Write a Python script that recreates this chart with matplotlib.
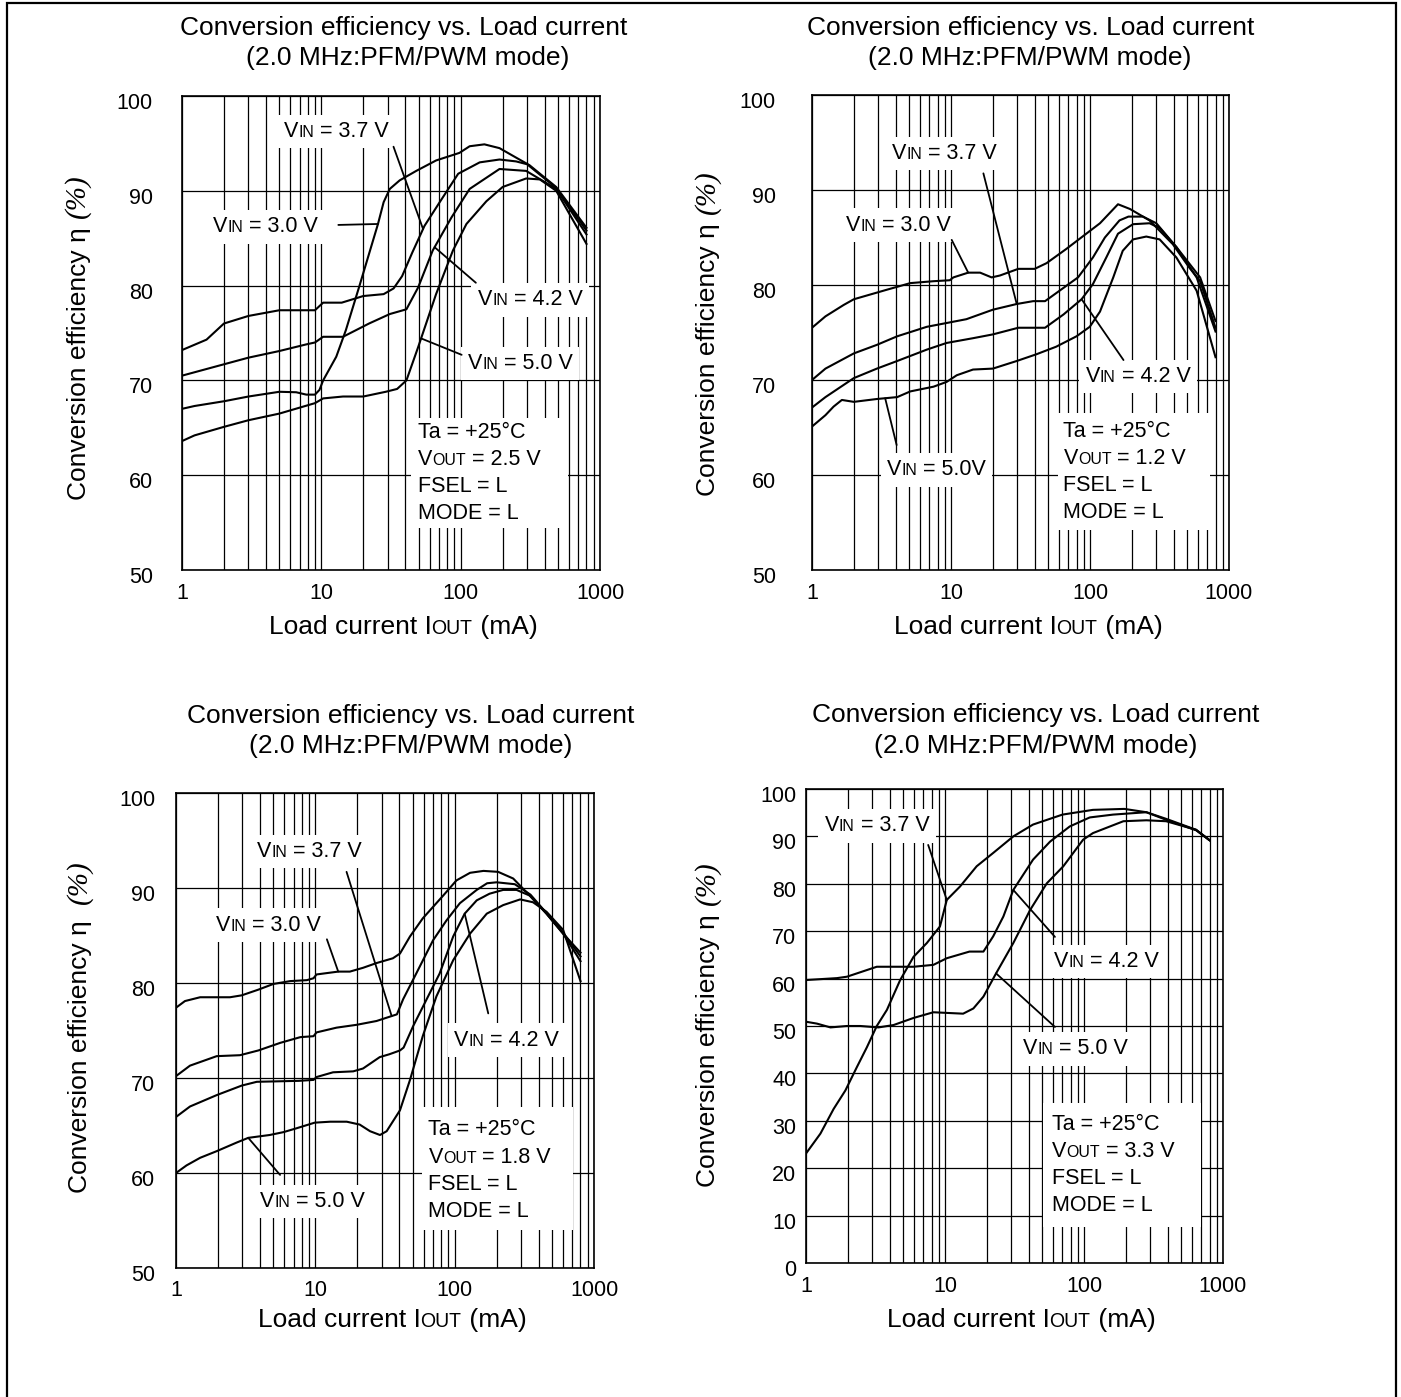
import numpy as np
import matplotlib.pyplot as plt
from matplotlib.offsetbox import TextArea, HPacker, VPacker, AnnotationBbox
from matplotlib.patches import Rectangle
from matplotlib.ticker import LogLocator, NullFormatter, NullLocator
from matplotlib.transforms import ScaledTranslation

plt.rcParams["font.family"] = ["Liberation Sans", "DejaVu Sans"]

# ---- data (load current in mA, efficiency in %) ----
# panel 1 : VOUT = 2.5 V
p1_i_30 = [1, 1.23, 2, 3, 5, 6.6, 7.8, 9, 9.7, 10.3, 12.8, 15, 18.8, 25.5, 28, 31,
           36.5, 48, 66.6, 98, 116, 148, 190, 250, 312, 485, 800]
p1_e_30 = [67.0, 67.3, 67.8, 68.3, 68.8, 68.75, 68.5, 68.5, 69.0, 70.0, 72.5, 75.3, 80.0,
           86.5, 88.8, 90.2, 91.1, 92.1, 93.2, 94.0, 94.7, 94.9, 94.5, 93.5, 92.7, 90.4, 86.1]
p1_i_37 = [1, 1.5, 2, 3, 5, 9, 10.3, 14, 20, 28, 33, 38, 45, 55, 70, 96, 137, 190, 250,
           300, 485, 800]
p1_e_37 = [73.2, 74.3, 76.0, 76.8, 77.4, 77.4, 78.2, 78.2, 78.9, 79.1, 79.7, 81.0, 83.5,
           86.3, 88.7, 91.8, 93.0, 93.3, 93.1, 92.8, 90.3, 85.8]
p1_i_42 = [1, 2, 3, 5, 7.8, 9, 10.3, 14.3, 22, 31, 40.8, 49.5, 63, 86, 116, 190, 295, 485, 800]
p1_e_42 = [70.5, 71.7, 72.4, 73.1, 73.8, 74.0, 74.6, 74.6, 76.0, 77.0, 77.5, 79.8, 83.7,
           87.2, 90.2, 92.3, 92.1, 90.2, 85.4]
p1_i_50 = [1, 1.23, 2, 3, 5, 9, 10.3, 14.3, 20, 29, 35, 40.8, 49.5, 66.6, 88, 110, 153,
           200, 295, 370, 485, 800]
p1_e_50 = [63.6, 64.2, 65.1, 65.8, 66.5, 67.6, 68.1, 68.3, 68.3, 68.8, 69.1, 70.0, 73.5,
           79.1, 83.7, 86.5, 88.9, 90.4, 91.3, 91.2, 90.0, 84.4]

# panel 2 : VOUT = 1.2 V
p2_i_30 = [1, 1.25, 1.69, 2, 2.93, 3.45, 5.1, 7.5, 9.8, 10.4, 13.3, 16.2, 19.6, 22.5, 30.5,
           40, 48.7, 67.6, 94, 118, 159, 194, 268, 394, 520, 620, 800]
p2_e_30 = [75.5, 76.7, 77.9, 78.5, 79.2, 79.5, 80.2, 80.4, 80.5, 80.8, 81.3, 81.3, 80.8,
           81.0, 81.7, 81.7, 82.3, 83.8, 85.4, 86.5, 88.5, 88.0, 86.8, 84.3, 81.8, 80.4, 75.5]
p2_i_37 = [1, 1.25, 2, 2.93, 4.1, 6.7, 9.3, 12.9, 20, 29.7, 39, 47.5, 64.5, 82, 105, 128,
           163, 189, 240, 300, 418, 620, 800]
p2_e_37 = [70.0, 71.2, 72.8, 73.7, 74.6, 75.6, 76.0, 76.4, 77.4, 78.0, 78.3, 78.3, 79.7,
           80.8, 82.9, 85.0, 86.8, 87.2, 87.2, 86.5, 84.0, 80.8, 76.2]
p2_i_42 = [1, 1.25, 2, 2.93, 4.1, 6.7, 9.3, 14.4, 20, 30.5, 47.5, 64.5, 87, 105, 131, 159,
           204, 268, 317, 418, 585, 800]
p2_e_42 = [67.1, 68.2, 70.2, 71.2, 72.0, 73.2, 73.9, 74.4, 74.8, 75.5, 75.5, 76.9, 78.5,
           80.1, 82.9, 85.4, 86.4, 86.5, 86.0, 84.0, 80.8, 75.1]
p2_i_50 = [1, 1.25, 1.43, 1.64, 2, 2.93, 4.1, 5.1, 7.5, 9.3, 11, 14.4, 20, 29.7, 41, 57, 80,
           99.6, 118, 147, 172, 204, 254, 317, 418, 585, 800]
p2_e_50 = [65.1, 66.3, 67.2, 67.9, 67.7, 68.0, 68.2, 68.8, 69.3, 69.8, 70.5, 71.1, 71.2,
           72.0, 72.7, 73.5, 74.6, 75.6, 77.2, 80.8, 83.6, 84.8, 85.1, 84.8, 82.9, 79.4, 72.4]

# panel 3 : VOUT = 1.8 V
p3_i_30 = [1, 1.16, 1.49, 2.44, 2.96, 3.9, 5, 6.6, 8.7, 9.7, 10.2, 14.6, 17.7, 22, 27.5, 36,
           40.5, 47.8, 59, 82.7, 103, 129, 161, 205, 263, 346, 456, 600, 800]
p3_e_30 = [77.4, 78.1, 78.5, 78.5, 78.7, 79.3, 79.9, 80.2, 80.3, 80.5, 80.9, 81.2, 81.2,
           81.6, 82.1, 82.6, 83.1, 84.9, 86.8, 89.2, 90.8, 91.6, 91.8, 91.7, 91.0, 89.2,
           87.3, 85.2, 82.3]
p3_i_37 = [1, 1.26, 1.96, 2.88, 3.9, 5.6, 7.8, 9.7, 10.2, 14.2, 19.8, 27.5, 38.5, 42.7, 53,
           70, 87.5, 109, 144, 171, 200, 270, 350, 460, 600, 800]
p3_e_37 = [70.2, 71.3, 72.3, 72.4, 72.9, 73.7, 74.3, 74.4, 74.8, 75.3, 75.6, 76.0, 76.7,
           78.3, 81.0, 84.5, 86.6, 88.4, 89.8, 90.5, 90.6, 90.4, 89.3, 87.3, 85.3, 82.8]
p3_i_42 = [1, 1.26, 1.96, 2.96, 3.8, 7.6, 9.7, 10.2, 13.4, 18.7, 22, 29, 34, 40.5, 43, 50.5,
           63, 78, 97.6, 118, 144, 178, 223, 278, 346, 456, 600, 800]
p3_e_42 = [65.9, 67.0, 68.2, 69.2, 69.6, 69.7, 69.8, 70.1, 70.6, 70.7, 71.0, 72.2, 72.5,
           72.9, 73.2, 75.5, 78.3, 81.0, 84.9, 87.3, 88.7, 89.4, 89.8, 89.8, 89.2, 87.3,
           85.2, 83.2]
p3_i_50 = [1, 1.19, 1.49, 1.96, 2.72, 3.3, 4.7, 5.9, 7.3, 9.9, 12.8, 16.8, 20.8, 24.7, 29.1,
           32.5, 40.5, 47.8, 59, 74, 97.6, 129, 170, 223, 295, 365, 456, 600, 800]
p3_e_50 = [60.0, 60.8, 61.6, 62.3, 63.2, 63.7, 64.0, 64.3, 64.7, 65.3, 65.4, 65.4, 65.1,
           64.4, 64.0, 64.4, 66.6, 69.8, 74.4, 78.6, 82.4, 85.2, 87.3, 88.2, 88.8, 88.5,
           87.5, 85.6, 80.2]

# panel 4 : VOUT = 3.3 V
p4_i_37 = [1, 1.27, 1.58, 1.92, 2.32, 2.74, 3.23, 3.82, 4.76, 5.94, 7.4, 9.2, 10.3, 12.8,
           16.9, 22.2, 31, 43, 70, 116, 195, 281, 390, 640, 800]
p4_e_37 = [23.1, 27.3, 32.5, 36.4, 41.3, 45.5, 50.0, 53.4, 59.7, 64.6, 67.5, 71.0, 76.6,
           79.4, 83.7, 86.5, 90.0, 92.5, 94.6, 95.6, 95.8, 95.1, 93.7, 91.4, 89.2]
p4_i_42 = [1, 1.67, 1.97, 3.23, 5.94, 8.25, 10.3, 15, 18.9, 22.2, 26.3, 31, 43, 57, 79, 110,
           162, 281, 390, 640, 800]
p4_e_42 = [59.7, 60.1, 60.4, 62.5, 62.5, 62.9, 64.3, 65.7, 65.7, 68.9, 73.1, 78.7, 85.1,
           88.9, 92.1, 94.0, 94.6, 95.1, 93.5, 91.3, 89.2]
p4_i_50 = [1, 1.2, 1.5, 1.97, 2.46, 3.32, 4.26, 5.94, 8.25, 9.7, 13.5, 16, 18.9, 23.3, 31,
           41, 54, 71, 98.5, 116, 192, 281, 390, 640, 800]
p4_e_50 = [50.9, 50.5, 49.7, 50.0, 50.0, 49.7, 50.2, 51.7, 52.9, 52.8, 52.6, 53.7, 56.2,
           61.1, 67.5, 74.5, 80.1, 83.7, 89.3, 90.7, 93.2, 93.4, 93.2, 91.4, 89.2]

vout_labels = ["2.5 V", "1.2 V", "1.8 V", "3.3 V"]
x_ticks = [1, 10, 100, 1000]
title_1 = "Conversion efficiency vs. Load current"
title_2 = "(2.0 MHz:PFM/PWM mode)"

W, H = 1401, 1397
fig = plt.figure(figsize=(W / 100, H / 100), dpi=100)
renderer = fig.canvas.get_renderer()

LBL = 15.5   # size of in-plot labels
BIG = 19     # titles / axis labels
SMALL = 0.74  # small-caps ratio of "IN", "OUT"


def rich(parts, size):
    # parts: (text, is_small) pieces on one baseline
    areas = [TextArea(t, textprops=dict(size=size * SMALL if s else size, color="black"))
             for t, s in parts]
    return HPacker(children=areas, align="baseline", pad=0, sep=0)


def vin(v, size=LBL):
    return rich([("V", False), ("IN", True), (" = " + v, False)], size)


def on_curve(xs, ys, x):
    return np.interp(np.log10(x), np.log10(xs), ys)


def make_axes(l, t, r, b):
    return fig.add_axes([l / W, 1 - b / H, (r - l) / W, (b - t) / H])


def style(ax, ylim, yticks, ypad):
    ax.set_xscale("log")
    ax.set_xlim(1, 1000)
    ax.set_ylim(*ylim)
    ax.set_xticks(x_ticks, labels=[str(v) for v in x_ticks])
    ax.xaxis.set_minor_locator(LogLocator(base=10, subs=np.arange(2, 10)))
    ax.xaxis.set_minor_formatter(NullFormatter())
    ax.set_yticks(yticks)
    ax.yaxis.set_minor_locator(NullLocator())
    ax.tick_params(which="both", length=0, labelsize=15.5)
    ax.tick_params(axis="y", pad=ypad)
    ax.tick_params(axis="x", pad=9)
    # y labels sit a little below their grid line in the original
    shift = ScaledTranslation(0, -5 / 100, fig.dpi_scale_trans)
    for lab in ax.get_yticklabels():
        lab.set_transform(lab.get_transform() + shift)
    ax.grid(True, which="both", color="black", lw=0.9)
    ax.set_axisbelow(True)
    for sp in ax.spines.values():
        sp.set_linewidth(1.2)


def put_label(ax, box, xy):
    ab = AnnotationBbox(box, xy, xycoords="axes fraction", box_alignment=(0.5, 0.5),
                        frameon=True, pad=0.3, fontsize=15,
                        bboxprops=dict(fc="white", ec="none"), zorder=3)
    ax.add_artist(ab)


def leader(ax, start, xs, ys, x):
    ax.annotate("", xy=(x, on_curve(xs, ys, x)), xycoords="data", xytext=start,
                textcoords="axes fraction",
                arrowprops=dict(arrowstyle="-", lw=1.3, color="black",
                                shrinkA=0, shrinkB=0), zorder=4)


def conditions(ax, vout, text_xy, box):
    x0, y0, x1, y1 = box
    ax.add_patch(Rectangle((x0, y0), x1 - x0, y1 - y0, transform=ax.transAxes,
                           fc="white", ec="none", zorder=3))
    lines = [rich([("Ta = +25°C", False)], LBL),
             rich([("V", False), ("OUT", True), (" = " + vout, False)], LBL),
             rich([("FSEL = L", False)], LBL),
             rich([("MODE = L", False)], LBL)]
    pack = VPacker(children=lines, align="left", pad=0, sep=4.4)
    ab = AnnotationBbox(pack, text_xy, xycoords="axes fraction", box_alignment=(0, 0.5),
                        frameon=False, zorder=3.5)
    ax.add_artist(ab)


def fig_text(px, py, s, **kw):
    return fig.text(px / W, 1 - py / H, s, ha="center", va="center", **kw)


def xlabel(px, py):
    box = rich([("Load current I", False), ("OUT", True), (" (mA)", False)], BIG)
    ab = AnnotationBbox(box, (px, H - py), xycoords="figure pixels",
                        box_alignment=(0.5, 0.5), frameon=False)
    fig.add_artist(ab)


def ylabel(px, py_bottom, gap):
    t = fig.text(px / W, 1 - py_bottom / H, "Conversion efficiency η", rotation=90,
                 ha="center", va="bottom", size=BIG)
    bb = t.get_window_extent(renderer)
    fig.text((px - 1) / W, (bb.y1 + gap) / H, "(%)", rotation=90, ha="center", va="bottom",
             size=BIG + 2, style="italic", family=["Liberation Serif", "DejaVu Serif"])


panels = [
    dict(rect=(182, 96, 600, 570), ylim=(50, 100), yticks=range(50, 101, 10), ypad=21,
         curves=[(p1_i_30, p1_e_30), (p1_i_37, p1_e_37), (p1_i_42, p1_e_42), (p1_i_50, p1_e_50)],
         labels=[("3.7 V", (0.370, 0.925), (0.506, 0.893), 1, 53.7),
                 ("3.0 V", (0.199, 0.724), (0.374, 0.728), 0, 25.5),
                 ("4.2 V", (0.833, 0.570), (0.703, 0.606), 2, 65),
                 ("5.0 V", (0.809, 0.436), (0.669, 0.454), 3, 52)],
         cond=((0.565, 0.205), (0.549, 0.089, 0.924, 0.321)),
         title=((404, 28), (408, 58)), xl=(403, 627), yl=(79, 500, 9)),
    dict(rect=(812, 95, 1229, 570), ylim=(50, 100), yticks=range(50, 101, 10), ypad=26,
         curves=[(p2_i_30, p2_e_30), (p2_i_37, p2_e_37), (p2_i_42, p2_e_42), (p2_i_50, p2_e_50)],
         labels=[("3.7 V", (0.317, 0.877), (0.411, 0.835), 1, 29.7),
                 ("3.0 V", (0.207, 0.726), (0.335, 0.695), 0, 13.3),
                 ("4.2 V", (0.782, 0.407), (0.747, 0.442), 2, 87),
                 ("5.0V", (0.299, 0.211), (0.203, 0.263), 3, 3.36)],
         cond=((0.603, 0.207), (0.590, 0.084, 0.954, 0.331)),
         title=((1031, 28), (1030, 58)), xl=(1028, 627), yl=(708, 496, 9)),
    dict(rect=(176, 793, 594, 1268), ylim=(50, 100), yticks=range(50, 101, 10), ypad=15,
         curves=[(p3_i_30, p3_e_30), (p3_i_37, p3_e_37), (p3_i_42, p3_e_42), (p3_i_50, p3_e_50)],
         labels=[("3.7 V", (0.320, 0.877), (0.408, 0.834), 1, 35.3),
                 ("3.0 V", (0.221, 0.722), (0.361, 0.692), 0, 14.6),
                 ("4.2 V", (0.791, 0.480), (0.747, 0.536), 2, 118),
                 ("5.0 V", (0.327, 0.140), (0.249, 0.196), 3, 3.3)],
         cond=((0.604, 0.205), (0.588, 0.080, 0.950, 0.340)),
         title=((411, 716), (411, 746)), xl=(392, 1320), yl=(80, 1193, 16)),
    dict(rect=(806, 789, 1223, 1263), ylim=(0, 100), yticks=range(0, 101, 10), ypad=7,
         curves=[(p4_i_37, p4_e_37), (p4_i_42, p4_e_42), (p4_i_50, p4_e_50)],
         labels=[("3.7 V", (0.170, 0.922), (0.293, 0.882), 0, 10.3),
                 ("4.2 V", (0.720, 0.636), (0.597, 0.688), 1, 31),
                 ("5.0 V", (0.647, 0.452), (0.597, 0.498), 2, 23.3)],
         cond=((0.589, 0.207), (0.568, 0.076, 0.947, 0.338)),
         title=((1036, 715), (1036, 746)), xl=(1021, 1320), yl=(708, 1187, 9)),
]

for p, vout in zip(panels, vout_labels):
    ax = make_axes(*p["rect"])
    style(ax, p["ylim"], list(p["yticks"]), p["ypad"])
    for xs, ys in p["curves"]:
        ax.plot(xs, ys, color="black", lw=1.5, zorder=4)
    for v, lab_xy, start, idx, x_at in p["labels"]:
        put_label(ax, vin(v), lab_xy)
        xs, ys = p["curves"][idx]
        leader(ax, start, xs, ys, x_at)
    conditions(ax, vout, *p["cond"])
    (tx1, ty1), (tx2, ty2) = p["title"]
    fig_text(tx1, ty1, title_1, size=BIG)
    fig_text(tx2, ty2, title_2, size=BIG)
    xlabel(*p["xl"])
    ylabel(*p["yl"])

# outer frame of the figure page
fig.add_artist(Rectangle((7 / W, -0.05), (1396 - 7) / W, 1.05 - 3 / H,
                         transform=fig.transFigure, fill=False, lw=1.6, color="black"))

fig.savefig("out.png", dpi=100)
